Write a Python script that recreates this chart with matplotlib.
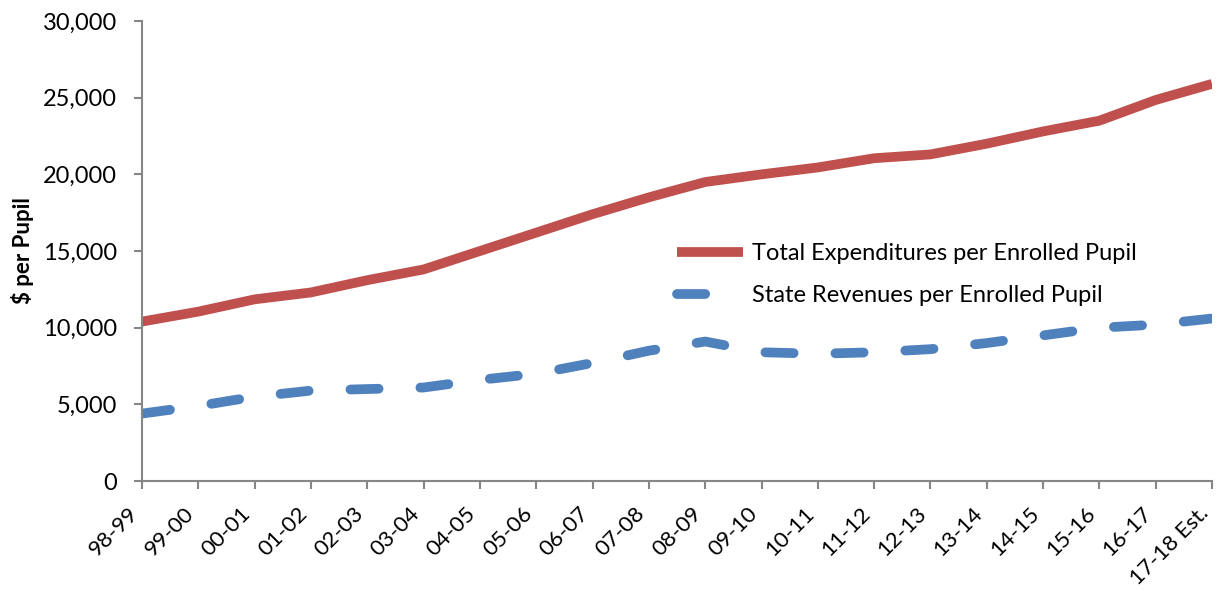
import matplotlib
matplotlib.use("Agg")
import matplotlib.pyplot as plt
from matplotlib.ticker import FuncFormatter

plt.rcParams['font.family'] = ['Lato', 'DejaVu Sans']

years = ['98-99', '99-00', '00-01', '01-02', '02-03', '03-04', '04-05', '05-06',
         '06-07', '07-08', '08-09', '09-10', '10-11', '11-12', '12-13', '13-14',
         '14-15', '15-16', '16-17', '17-18 Est.']

total_exp = [10400, 11050, 11850, 12300, 13100, 13800, 15000, 16200, 17400, 18500,
             19500, 20000, 20450, 21050, 21300, 22000, 22800, 23500, 24850, 25900]

state_rev = [4400, 4900, 5500, 5900, 6000, 6100, 6600, 7000, 7700, 8500,
             9100, 8400, 8300, 8400, 8600, 9000, 9500, 10000, 10200, 10600]

red = '#C0504D'
blue = '#4F81BD'
grey = '#868686'

fig = plt.figure(figsize=(12.18, 5.91), dpi=100)
ax = fig.add_axes([0.1166, 0.186, 0.8785, 0.7785])

x = list(range(len(years)))
ax.plot(x, total_exp, color=red, lw=7, solid_capstyle='butt', solid_joinstyle='round',
        label='Total Expenditures per Enrolled Pupil')
ax.plot(x, state_rev, color=blue, lw=7, dashes=(2.9, 4.3), dash_capstyle='round',
        label='State Revenues per Enrolled Pupil')

ax.set_xlim(0, len(years) - 1)
ax.set_ylim(0, 30000)
ax.set_yticks(range(0, 30001, 5000))
ax.yaxis.set_major_formatter(FuncFormatter(lambda v, p: f'{int(v):,}'))
ax.set_xticks(x)

for s in ['top', 'right']:
    ax.spines[s].set_visible(False)
for s in ['left', 'bottom']:
    ax.spines[s].set_color(grey)
    ax.spines[s].set_linewidth(1.5)
ax.tick_params(axis='both', colors=grey, width=1.5, length=6, direction='out',
               labelcolor='black', labelsize=17)
ax.tick_params(axis='x', pad=20, labelsize=16)
ax.tick_params(axis='y', pad=12)
ax.set_xticklabels(years, rotation=45, ha='right', va='bottom', rotation_mode='anchor')

ax.set_ylabel('$ per Pupil', fontsize=16, fontweight='bold', labelpad=6)

fig.legend(loc='center left', bbox_to_anchor=(677 / 1218, 1 - 274.5 / 591),
           frameon=False, fontsize=17, handlelength=2.8, handletextpad=0.38,
           labelspacing=0.9, borderpad=0, borderaxespad=0)

fig.savefig('out.png', dpi=100)
